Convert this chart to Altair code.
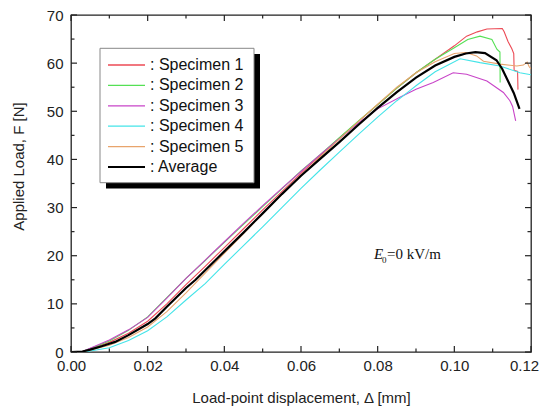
import altair as alt
import pandas as pd

# ---------------- data ----------------
series_names = ["Specimen 1", "Specimen 2", "Specimen 3", "Specimen 4", "Specimen 5", "Average"]
legend_labels = [": Specimen 1", ": Specimen 2", ": Specimen 3", ": Specimen 4", ": Specimen 5", ": Average"]
series_colors = ["#ec4a55", "#55e055", "#c844c8", "#44e4e8", "#e8a46c", "#000000"]

s1_x = [0, 0.003, 0.005, 0.01, 0.015, 0.02, 0.025, 0.03, 0.035, 0.04, 0.045, 0.05, 0.055, 0.06, 0.065, 0.07,
        0.075, 0.08, 0.085, 0.09, 0.095, 0.1, 0.1032, 0.106, 0.1085, 0.1125, 0.113, 0.114, 0.115, 0.1155,
        0.1156, 0.1165, 0.1166]
s1_y = [0, 0.1, 0.6, 2.0, 3.9, 6.4, 10.0, 14.0, 17.8, 21.7, 25.6, 29.5, 33.3, 37.1, 40.8, 44.4,
        47.9, 51.4, 54.8, 58.0, 60.8, 63.6, 65.6, 66.5, 67.1, 67.2, 66.5, 64.5, 63.0, 62.0,
        58.5, 58.3, 54.5]

s2_x = [0, 0.003, 0.005, 0.01, 0.015, 0.02, 0.025, 0.03, 0.035, 0.04, 0.045, 0.05, 0.055, 0.06, 0.065, 0.07,
        0.075, 0.08, 0.085, 0.09, 0.095, 0.1, 0.1035, 0.1067, 0.1098, 0.1111, 0.1119, 0.11195]
s2_y = [0, 0.1, 0.7, 2.3, 4.5, 7.3, 11.3, 15.3, 19.0, 22.8, 26.5, 30.2, 33.9, 37.6, 41.0, 44.5,
        48.0, 51.4, 54.8, 58.0, 60.8, 63.2, 64.9, 65.6, 64.9, 62.9, 62.3, 56.0]

s3_x = [0, 0.003, 0.005, 0.01, 0.015, 0.02, 0.025, 0.03, 0.035, 0.04, 0.045, 0.05, 0.055, 0.06, 0.065, 0.07,
        0.075, 0.08, 0.0858, 0.09, 0.0945, 0.0997, 0.1032, 0.1085, 0.1128, 0.1145, 0.1152, 0.116]
s3_y = [0, 0.1, 0.8, 2.5, 4.6, 7.2, 11.2, 15.3, 19.1, 22.9, 26.7, 30.4, 34.0, 37.5, 41.0, 44.3,
        47.6, 50.5, 52.9, 54.6, 56.0, 58.0, 57.7, 56.3, 53.9, 52.2, 51.0, 48.0]

s4_x = [0, 0.003, 0.005, 0.01, 0.015, 0.02, 0.025, 0.03, 0.035, 0.04, 0.045, 0.05, 0.055, 0.06, 0.065, 0.07,
        0.075, 0.08, 0.085, 0.0884, 0.09, 0.095, 0.1015, 0.1067, 0.1119, 0.1171, 0.12]
s4_y = [0, 0.0, 0.2, 0.9, 2.4, 4.4, 7.3, 10.8, 14.2, 18.2, 22.1, 26.0, 30.0, 34.0, 37.8, 41.5,
        45.2, 48.8, 52.2, 54.3, 55.3, 58.2, 60.9, 60.1, 59.4, 58.0, 57.6]

s5_x = [0, 0.003, 0.005, 0.01, 0.015, 0.02, 0.025, 0.03, 0.035, 0.04, 0.045, 0.05, 0.055, 0.06, 0.065, 0.07,
        0.075, 0.08, 0.085, 0.09, 0.095, 0.1, 0.103, 0.1058, 0.1076, 0.1119, 0.1163, 0.118, 0.119, 0.1195, 0.12]
s5_y = [0, 0.1, 0.4, 1.4, 3.0, 5.2, 8.4, 12.3, 16.4, 20.5, 24.6, 28.7, 32.7, 36.6, 40.5, 44.2,
        47.9, 51.5, 55.0, 58.0, 60.3, 62.0, 62.2, 61.5, 60.4, 59.8, 59.4, 59.6, 60.2, 59.3, 58.8]

avg_x = [0, 0.003, 0.005, 0.008, 0.01, 0.0115, 0.015, 0.02, 0.022, 0.025, 0.03, 0.0325, 0.035, 0.04, 0.045,
         0.05, 0.055, 0.06, 0.065, 0.07, 0.075, 0.08, 0.085, 0.09, 0.095, 0.1, 0.103, 0.1055, 0.108, 0.111,
         0.1125, 0.114, 0.1155, 0.117]
avg_y = [0, 0.1, 0.5, 1.2, 1.7, 2.1, 3.5, 5.8, 7.0, 9.4, 13.3, 15.0, 17.0, 20.9, 24.8,
         28.8, 32.8, 36.6, 40.1, 43.6, 47.2, 50.7, 54.0, 57.0, 59.5, 61.3, 62.0, 62.3, 62.1, 60.6,
         58.8, 56.3, 53.8, 50.5]

x_major = [0.0, 0.02, 0.04, 0.06, 0.08, 0.10, 0.12]
x_minor = [0.01, 0.03, 0.05, 0.07, 0.09, 0.11]
y_major = [0, 10, 20, 30, 40, 50, 60, 70]
y_minor = [5, 15, 25, 35, 45, 55, 65]

# ---------------- build tables ----------------
rows = []
for name, xs, ys in zip(series_names,
                        [s1_x, s2_x, s3_x, s4_x, s5_x, avg_x],
                        [s1_y, s2_y, s3_y, s4_y, s5_y, avg_y]):
    for i, (a, b) in enumerate(zip(xs, ys)):
        rows.append({"series": name, "d": a, "F": b, "idx": i})
df = pd.DataFrame(rows)

W, H = 460, 337
FONT = "Liberation Sans"
XT = "Load-point displacement, \u0394 [mm]"
YT = "Applied Load, F [N]"

xscale = alt.Scale(domain=[0, 0.12], nice=False, zero=False)
yscale = alt.Scale(domain=[0, 70], nice=False, zero=False)
cscale = alt.Scale(domain=series_names, range=series_colors)

XAXIS = alt.Axis(values=x_major, format=".2f", ticks=False, domain=False, grid=False,
                 labelPadding=6, labelFlush=False,
                 labelOffset={"condition": {"test": "datum.value >= 0.119", "value": -7}, "value": 0},
                 title=XT, titleY=45, titleBaseline="middle")
YAXIS = alt.Axis(values=y_major, ticks=False, domain=False, grid=False,
                 labelPadding=8, labelFlush=False, title=YT,
                 titleX=-53, titleY=151, titleBaseline="middle", titleAngle=-90)

spec = df[df.series != "Average"]
avg = df[df.series == "Average"]

lines = alt.Chart(spec).mark_line(strokeWidth=1.1, clip=True).encode(
    x=alt.X("d:Q", scale=xscale, axis=XAXIS, title=XT),
    y=alt.Y("F:Q", scale=yscale, axis=YAXIS, title=YT),
    color=alt.Color("series:N", scale=cscale, legend=None),
    detail="series:N",
    order=alt.Order("idx:Q"),
)

avg_line = alt.Chart(avg).mark_line(strokeWidth=2.2, clip=True).encode(
    x=alt.X("d:Q", scale=xscale, axis=XAXIS, title=XT),
    y=alt.Y("F:Q", scale=yscale, axis=YAXIS, title=YT),
    color=alt.Color("series:N", scale=cscale, legend=None),
    order=alt.Order("idx:Q"),
)

TICK = "#222222"


def xticks(vals, length):
    d = pd.DataFrame({"v": vals})
    enc_x = alt.X("v:Q", scale=xscale, axis=XAXIS, title=XT)
    bottom = alt.Chart(d).mark_rule(color=TICK, strokeWidth=1.2).encode(
        x=enc_x, y=alt.value(H), y2=alt.value(H - length))
    top = alt.Chart(d).mark_rule(color=TICK, strokeWidth=1.2).encode(
        x=enc_x, y=alt.value(0), y2=alt.value(length))
    return [bottom, top]


def yticks(vals, length):
    d = pd.DataFrame({"v": vals})
    enc_y = alt.Y("v:Q", scale=yscale, axis=YAXIS, title=YT)
    left = alt.Chart(d).mark_rule(color=TICK, strokeWidth=1.2).encode(
        y=enc_y, x=alt.value(0), x2=alt.value(length))
    right = alt.Chart(d).mark_rule(color=TICK, strokeWidth=1.2).encode(
        y=enc_y, x=alt.value(W), x2=alt.value(W - length))
    return [left, right]


tick_layers = xticks(x_major, 6) + xticks(x_minor, 3.5) + yticks(y_major, 6) + yticks(y_minor, 3.5)

one = pd.DataFrame({"a": [0]})
ann_E = alt.Chart(one).mark_text(text="E", font="Liberation Serif", fontSize=15, fontStyle="italic",
                                 align="left", baseline="alphabetic", color="#111").encode(
    x=alt.value(303), y=alt.value(244))
ann_sub = alt.Chart(one).mark_text(text="0", font="Liberation Serif", fontSize=9,
                                   align="left", baseline="alphabetic", color="#111").encode(
    x=alt.value(311), y=alt.value(248))
ann_rest = alt.Chart(one).mark_text(text="=0 kV/m", font="Liberation Serif", fontSize=15,
                                    align="left", baseline="alphabetic", color="#111").encode(
    x=alt.value(316), y=alt.value(244))

main = alt.layer(lines, avg_line, *tick_layers, ann_E, ann_sub, ann_rest)

# ---------------- hand-made legend box ----------------
shadow = alt.Chart(one).mark_rect(color="#000000").encode(
    x=alt.value(35), x2=alt.value(189), y=alt.value(39), y2=alt.value(173.5))
box = alt.Chart(one).mark_rect(fill="white", stroke="#888888", strokeWidth=1).encode(
    x=alt.value(29), x2=alt.value(183), y=alt.value(33.3), y2=alt.value(167.7))

leg_df = pd.DataFrame({"series": series_names, "label": legend_labels})
row_scale = alt.Scale(type="point", domain=series_names, range=[50, 152], padding=0)
leg_lines = alt.Chart(leg_df).mark_rule().encode(
    x=alt.value(37), x2=alt.value(74),
    y=alt.Y("series:N", scale=row_scale, axis=None),
    color=alt.Color("series:N", scale=cscale, legend=None),
    strokeWidth=alt.condition(alt.datum.series == "Average", alt.value(2.2), alt.value(1.3)),
)
leg_text = alt.Chart(leg_df).mark_text(align="left", baseline="middle", font=FONT, fontSize=16,
                                       color="#111").encode(
    x=alt.value(79),
    y=alt.Y("series:N", scale=row_scale, axis=None),
    text="label:N",
)
legend = alt.layer(shadow, box, leg_lines, leg_text)

chart = alt.layer(main, legend).resolve_scale(y="independent").properties(
    width=W, height=H,
    autosize=alt.AutoSizeParams(type="none"),
    padding={"left": 63, "top": 7, "right": 8, "bottom": 56},
).configure_view(stroke="#222222", strokeWidth=1.3).configure_axis(
    labelFont=FONT, labelFontSize=15, labelColor="#222",
    titleFont=FONT, titleFontSize=15, titleFontWeight="normal", titleColor="#222",
)

chart.save("out.html", embed_options={"renderer": "svg", "actions": False})
